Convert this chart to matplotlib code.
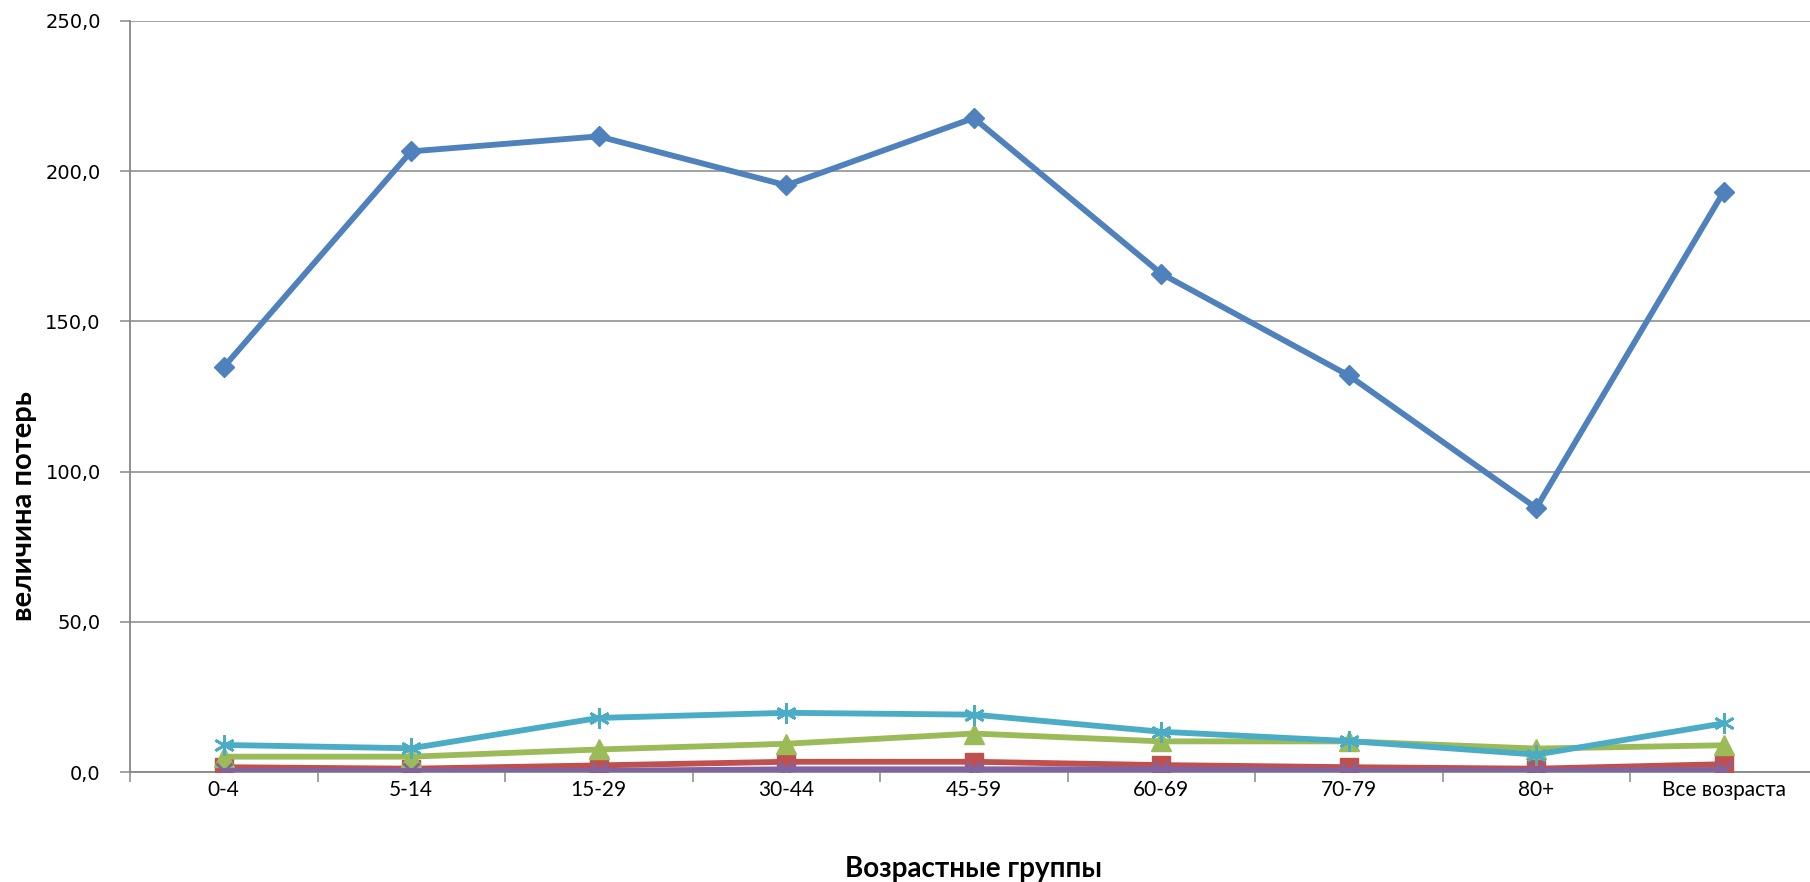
import numpy as np
import matplotlib
matplotlib.use("Agg")
from matplotlib import pyplot
from matplotlib.ticker import FuncFormatter, MultipleLocator

# age groups and loss values per series
groups = ["0-4", "5-14", "15-29", "30-44", "45-59", "60-69", "70-79", "80+", "Все возраста"]

blue_vals = [134.8, 206.6, 211.6, 195.3, 217.7, 165.9, 132.0, 87.9, 193.2]
red_vals = [1.6, 1.1, 2.2, 3.4, 3.4, 2.3, 1.6, 1.1, 2.6]
green_vals = [5.1, 5.1, 7.5, 9.4, 12.8, 10.2, 10.2, 7.8, 8.9]
purple_vals = [0.3, 0.3, 0.4, 0.9, 0.9, 0.9, 0.4, 0.4, 0.7]
cyan_vals = [9.0, 7.9, 18.0, 19.7, 19.1, 13.4, 10.3, 5.8, 16.2]

series = [
    (blue_vals, "#4F81BD", "D", 10.5),
    (red_vals, "#C0504D", "s", 12.5),
    (green_vals, "#9BBB59", "^", 14),
    (purple_vals, "#8064A2", "x", 12),
    (cyan_vals, "#4BACC6", (6, 2, 0), 15),
]

fig = pyplot.figure(figsize=(18.1, 8.82), dpi=100)
ax = fig.add_axes([130 / 1810, 1 - 772 / 882, 1687.5 / 1810, 751 / 882])

x = np.arange(len(groups))
for vals, col, mk, ms in series:
    kw = dict(markerfacecolor=col, markeredgecolor=col)
    if mk == "x" or isinstance(mk, tuple):
        kw["markeredgewidth"] = 2
    ax.plot(x, vals, color=col, linewidth=4.2, marker=mk, markersize=ms,
            solid_capstyle="round", zorder=3, **kw)

grid_col = "#878787"
ax.set_ylim(0, 250)
ax.set_xlim(-0.5, 8.5)
ax.yaxis.set_major_locator(MultipleLocator(50))
ax.yaxis.set_major_formatter(FuncFormatter(lambda v, p: ("%.1f" % v).replace(".", ",")))
ax.yaxis.grid(True, color=grid_col, linewidth=1.1)
ax.set_axisbelow(True)

ax.set_xticks(x)
ax.set_xticklabels(groups, fontsize=15, family=["Lato", "DejaVu Sans"])
ax.set_xticks(np.arange(-0.5, 9, 1), minor=True)
ax.tick_params(axis="x", which="major", length=0, pad=6)
ax.tick_params(axis="x", which="minor", length=7, width=1.1, color=grid_col, direction="out")
ax.tick_params(axis="y", length=7, width=1.1, color=grid_col, direction="out", pad=14, labelsize=14)

for side in ("top", "right"):
    ax.spines[side].set_visible(False)
for side in ("left", "bottom"):
    ax.spines[side].set_color(grid_col)
    ax.spines[side].set_linewidth(1.3)

ax.set_xlabel("Возрастные группы", fontsize=20, fontweight="bold",
              family=["Lato", "DejaVu Sans"], labelpad=40)
ax.set_ylabel("величина потерь", fontsize=21, fontweight="bold",
              family=["Lato", "DejaVu Sans"], va="center")
ax.yaxis.set_label_coords(-0.0628, 0.354)

pyplot.savefig("out.png", dpi=100)
